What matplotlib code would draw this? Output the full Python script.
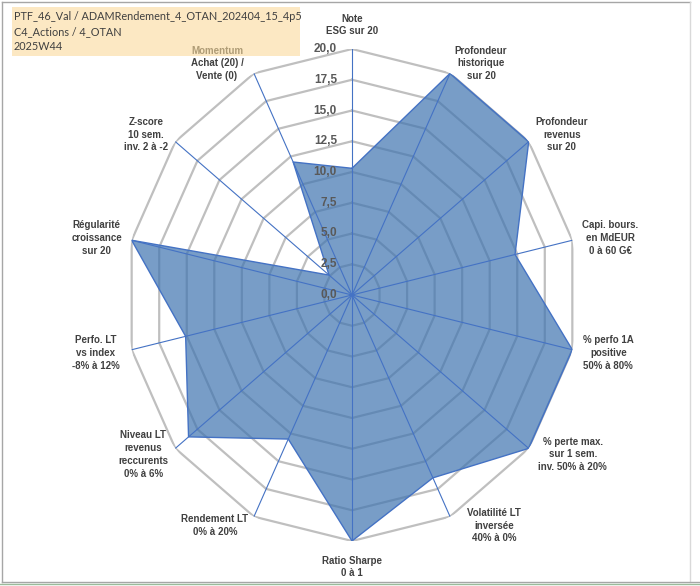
import numpy as np
import matplotlib
matplotlib.use('Agg')
import matplotlib.pyplot as plt
from matplotlib.patches import Rectangle
from matplotlib.lines import Line2D
from matplotlib.transforms import offset_copy

# axes of the radar, clockwise from the top
categories = [
    'Note\nESG sur 20',
    'Profondeur\nhistorique\nsur 20',
    'Profondeur\nrevenus\nsur 20',
    'Capi. bours.\nen MdEUR\n0 à 60 G€',
    '% perfo 1A\npositive\n50% à 80%',
    '% perte max.\nsur 1 sem.\ninv. 50% à 20%',
    'Volatilité LT\ninversée\n40% à 0%',
    'Ratio Sharpe\n0 à 1',
    'Rendement LT\n0% à 20%',
    'Niveau LT\nrevenus\nreccurents\n0% à 6%',
    'Perfo. LT\nvs index\n-8% à 12%',
    'Régularité\ncroissance\nsur 20',
    'Z-score\n10 sem.\ninv. 2 à -2',
    'Momentum\nAchat (20) /\nVente (0)',
]
scores = [10.3, 20.0, 20.0, 14.8, 20.0, 20.0, 16.5, 20.0, 13.0, 18.5, 15.1, 20.0, 2.6, 12.0]
ring_values = [2.5, 5.0, 7.5, 10.0, 12.5, 15.0, 17.5, 20.0]
tick_values = [0.0, 2.5, 5.0, 7.5, 10.0, 12.5, 15.0, 17.5, 20.0]
title_lines = ['PTF_46_Val / ADAMRendement_4_OTAN_202404_15_4p5', 'C4_Actions / 4_OTAN', '2025W44']

# label offsets from the outer vertex (pixels)
label_dx = [0, 31, 33, 38, 36, 44, 44, 0, -39, -32, -36, -35, -29, -37]
label_dy = [24, 10, 7, 2, -3, -6, -9, -26, -9, -6, -3, 2, 7, 10]

fig = plt.figure(figsize=(7.0, 5.86), dpi=100)
ax = fig.add_axes([126/700, 45/586, 452/700, 492/586], projection='polar')
ax.set_aspect('auto')
ax.set_theta_zero_location('N')
ax.set_theta_direction(-1)
ax.set_ylim(0, 20)
ax.set_xticks([])
ax.set_yticks([])
ax.grid(False)
ax.spines['polar'].set_visible(False)
ax.patch.set_visible(False)

n = len(categories)
angles = np.arange(n) * 2 * np.pi / n
closed = np.append(angles, angles[0])

for r in ring_values:
    ax.plot(closed, [r] * (n + 1), color='#bfbfbf', lw=1.6, zorder=1)

vals = np.append(scores, scores[0])
ax.fill(closed, vals, color='#3f74b0', alpha=0.7, lw=0, zorder=2)
ax.plot(closed, vals, color='#4472c4', lw=1.0, zorder=4)

for a in angles:
    ax.plot([a, a], [0, 20], color='#4472c4', lw=0.8, zorder=3)

tick_tr = offset_copy(ax.transData, fig=fig, x=-15, y=0, units='dots')
for t in tick_values:
    ax.text(0, t, f'{t:.1f}'.replace('.', ','), transform=tick_tr, ha='right', va='center',
            fontsize=8.5, fontweight='bold', color='#595959', family='Liberation Sans', zorder=5)

for a, lab, dx, dy in zip(angles, categories, label_dx, label_dy):
    ax.annotate(lab, xy=(a, 20), xytext=(dx, dy), textcoords='offset pixels',
                ha='center', va='center', fontsize=7, fontweight='bold', color='#404040',
                family='Liberation Sans', linespacing=1.35, annotation_clip=False)

# title box (semi transparent, overlaps the Momentum label)
H = 586
fig.patches.append(Rectangle((12/700, 1 - 56/H), 288/700, 49/H, transform=fig.transFigure,
                             facecolor='#fada9b', alpha=0.6, edgecolor='none', zorder=1))
for i, line in enumerate(title_lines):
    fig.text(14/700, 1 - (17 + 15 * i)/H, line, ha='left', va='center', fontsize=7.8,
             color='#404040', family='Lato', zorder=5)

# outer frame
fig.add_artist(Line2D([2/700, 2/700], [1 - 582/H, 1 - 2/H], color='#a6a6a6', lw=1))
fig.add_artist(Line2D([2/700, 690/700], [1 - 2/H, 1 - 2/H], color='#a6a6a6', lw=1))
fig.add_artist(Line2D([690/700, 690/700], [1 - 582/H, 1 - 2/H], color='#d9d9d9', lw=1))
fig.add_artist(Line2D([2/700, 700/700], [1 - 582/H, 1 - 582/H], color='#a6a6a6', lw=1))
fig.add_artist(Line2D([0, 1], [1 - 584/H, 1 - 584/H], color='#9bbb9b', lw=1))

fig.savefig('out.png', dpi=100)
